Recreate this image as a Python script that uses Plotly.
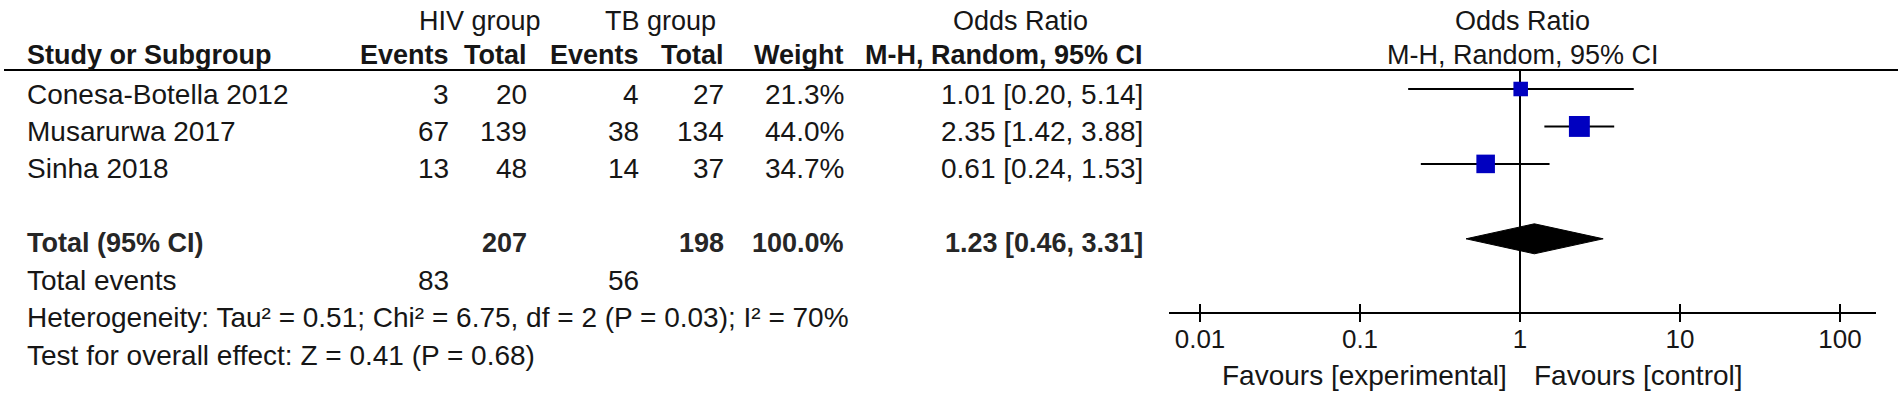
import plotly.graph_objects as go
import math

# ---------------- data ----------------
studies = ["Conesa-Botella 2012", "Musarurwa 2017", "Sinha 2018"]
hiv_events = [3, 67, 13]
hiv_total = [20, 139, 48]
tb_events = [4, 38, 14]
tb_total = [27, 134, 37]
weights = [21.3, 44.0, 34.7]
odds = [1.01, 2.35, 0.61]
ci_low = [0.20, 1.42, 0.24]
ci_high = [5.14, 3.88, 1.53]

total_label = "Total (95% CI)"
total_hiv = 207
total_tb = 198
total_weight = 100.0
total_or = 1.23
total_low = 0.46
total_high = 3.31
events_label = "Total events"
events_hiv = 83
events_tb = 56
heterogeneity = "Heterogeneity: Tau² = 0.51; Chi² = 6.75, df = 2 (P = 0.03); I² = 70%"
overall = "Test for overall effect: Z = 0.41 (P = 0.68)"

tick_vals = [0.01, 0.1, 1, 10, 100]
tick_text = ["0.01", "0.1", "1", "10", "100"]
favours_left = "Favours [experimental]"
favours_right = "Favours [control]"

# ---------------- layout helpers ----------------
W, H = 1902, 401
FONT = "Liberation Sans, Arial, sans-serif"
TXT = "#161616"
FS = 28        # body text
FSB = 27       # bold header text

MARK0, TEXT0, STEP = 89.0, 94.0, 37.3
def mark_y(k):
    return MARK0 + 37.45 * k
def text_y(k):
    return TEXT0 + STEP * k

HEADER_LINE = 70
AXIS_Y = 313
X_ONE = 1520      # pixel of OR = 1
DEC = 160         # pixels per decade
AX_L, AX_R = 1169, 1876

# column anchors (pixels)
C_NAME = 26
C_HE, C_HT, C_TE, C_TT, C_W, C_OR = 450, 528, 640, 725, 845, 1144

def px(x):
    return x / W

fig = go.Figure()

# CI lines
cx, cy = [], []
for i in range(len(studies)):
    cx += [ci_low[i], ci_high[i], None]
    cy += [mark_y(i), mark_y(i), None]
fig.add_trace(go.Scatter(x=cx, y=cy, mode="lines",
                         line=dict(color="black", width=2), hoverinfo="skip"))

# vertical line at OR = 1
fig.add_trace(go.Scatter(x=[1, 1], y=[HEADER_LINE, AXIS_Y], mode="lines",
                         line=dict(color="black", width=2), hoverinfo="skip"))

# squares (area proportional to weight)
fig.add_trace(go.Scatter(
    x=odds, y=[mark_y(i) for i in range(len(studies))], mode="markers",
    opacity=1,
    marker=dict(symbol="square", color="#0000c0", opacity=1,
                size=[3.15 * math.sqrt(w) for w in weights],
                line=dict(width=0)),
    hoverinfo="skip"))

# diamond
yd = mark_y(4)
half = 15
fig.add_trace(go.Scatter(
    x=[total_low, total_or, total_high, total_or, total_low],
    y=[yd, yd - half, yd, yd + half, yd],
    mode="lines", fill="toself", fillcolor="black",
    line=dict(color="black", width=1), hoverinfo="skip"))

# tick marks crossing the axis
tx, ty = [], []
for v in tick_vals:
    tx += [v, v, None]
    ty += [AXIS_Y - 9, AXIS_Y + 9, None]
fig.add_trace(go.Scatter(x=tx, y=ty, mode="lines",
                         line=dict(color="black", width=2), hoverinfo="skip"))

# ---------------- annotations ----------------
ann = []
def add(text, x, y, anchor="left", bold=False, size=None, color=TXT):
    if size is None:
        size = FSB if bold else FS
    t = f"<b>{text}</b>" if bold else text
    ann.append(dict(text=t, x=px(x), y=y, xref="paper", yref="y",
                    xanchor=anchor, yanchor="middle", showarrow=False,
                    borderpad=0,
                    font=dict(family=FONT, size=size, color=color)))

# group headers
add("HIV group", 480, 21, "center", size=27)
add("TB group", 660, 21, "center", size=27)
add("Odds Ratio", 1020, 21, "center", size=27)
add("Odds Ratio", 1522, 21, "center", size=27)
# column headers
add("Study or Subgroup", C_NAME, 55, "left", bold=True)
add("Events", C_HE, 55, "right", bold=True)
add("Total", C_HT, 55, "right", bold=True)
add("Events", C_TE, 55, "right", bold=True)
add("Total", C_TT, 55, "right", bold=True)
add("Weight", C_W, 55, "right", bold=True)
add("M-H, Random, 95% CI", C_OR, 55, "right", bold=True)
add("M-H, Random, 95% CI", 1523, 55, "center", size=27)

for i, s in enumerate(studies):
    y = text_y(i)
    add(s, C_NAME, y)
    add(str(hiv_events[i]), C_HE, y, "right")
    add(str(hiv_total[i]), C_HT, y, "right")
    add(str(tb_events[i]), C_TE, y, "right")
    add(str(tb_total[i]), C_TT, y, "right")
    add(f"{weights[i]:.1f}%", C_W, y, "right")
    add(f"{odds[i]:.2f} [{ci_low[i]:.2f}, {ci_high[i]:.2f}]", C_OR, y, "right")

y = text_y(4)
BOLDC = "#262626"
add(total_label, C_NAME, y, bold=True, color=BOLDC)
add(str(total_hiv), C_HT, y, "right", bold=True, color=BOLDC)
add(str(total_tb), C_TT, y, "right", bold=True, color=BOLDC)
add(f"{total_weight:.1f}%", C_W, y, "right", bold=True, color=BOLDC)
add(f"{total_or:.2f} [{total_low:.2f}, {total_high:.2f}]", C_OR, y, "right",
    bold=True, color=BOLDC)

y = text_y(5)
add(events_label, C_NAME, y)
add(str(events_hiv), C_HE, y, "right")
add(str(events_tb), C_TE, y, "right")
add(heterogeneity, C_NAME, text_y(6))
add(overall, C_NAME, text_y(7))

add(favours_left, 1508, 375, "right")
add(favours_right, 1533, 375, "left")

fig.update_layout(
    width=W, height=H,
    margin=dict(l=0, r=0, t=0, b=0),
    paper_bgcolor="white", plot_bgcolor="white",
    showlegend=False,
    annotations=ann,
    shapes=[dict(type="line", xref="paper", yref="y",
                 x0=px(4), x1=px(1898), y0=HEADER_LINE, y1=HEADER_LINE,
                 line=dict(color="black", width=2))],
    xaxis=dict(type="log", domain=[px(AX_L), px(AX_R)],
               range=[(AX_L - X_ONE) / DEC, (AX_R - X_ONE) / DEC],
               anchor="free", position=1 - AXIS_Y / H,
               showline=True, linecolor="black", linewidth=2,
               showgrid=False, zeroline=False,
               tickvals=tick_vals, ticktext=tick_text, ticks="",
               ticklabelstandoff=3,
               tickfont=dict(family=FONT, size=26, color=TXT)),
    yaxis=dict(range=[H, 0], domain=[0, 1], visible=False, fixedrange=True),
)

fig.write_html("out.html",
               config={"displayModeBar": False, "staticPlot": True},
               post_script="document.body.style.margin='0px';"
                           "document.documentElement.style.margin='0px';")
